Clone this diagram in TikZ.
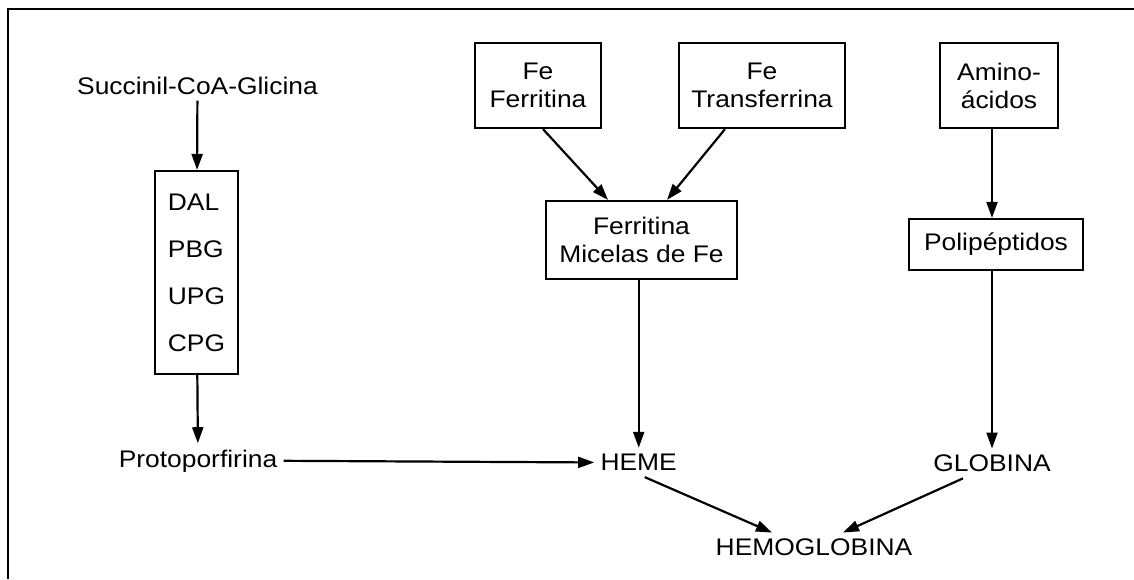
\documentclass[tikz,border=0pt]{standalone}
\usepackage{fontspec}
\setmainfont{Liberation Sans}[FakeStretch=1.1]
\usetikzlibrary{arrows.meta}

\begin{document}
\begin{tikzpicture}[x=0.5pt,y=-0.5pt,
  font=\fontsize{12}{14}\selectfont,
  caja/.style={draw,line width=1.1pt,align=center,inner sep=0pt},
  txt/.style={anchor=base,inner sep=3pt},
  flecha/.style={line width=1.1pt,-{Triangle[length=8pt,width=5.5pt]}}]
\useasboundingbox (0,0) rectangle (1134,579);
\draw[line width=1.4pt] (8,579) -- (8,9) -- (1134,9);

\node[txt] (succ) at (197.5,94) {Succinil-CoA-Glicina};
\node[caja,align=left,minimum width=41.5pt,minimum height=101.5pt] (dal) at (196.5,272.5)
  {DAL\\[9.5pt]PBG\\[9.5pt]UPG\\[9.5pt]CPG};
\node[txt] (proto) at (198,467) {Protoporfirina};

\node[caja,minimum width=63pt,minimum height=42.5pt] (fefer) at (538,85.5) {Fe\\Ferritina};
\node[caja,minimum width=83pt,minimum height=42.5pt] (fetrans) at (762,85.5) {Fe\\Transferrina};
\node[caja,minimum width=95.5pt,minimum height=39pt] (fmic) at (641.5,240) {Ferritina\\Micelas de Fe};
\node[txt] (heme) at (638.7,470.7) {HEME};

\node[caja,minimum width=59pt,minimum height=42.5pt] (amino) at (999,85.5) {Amino-\\ácidos};
\node[caja,minimum width=87pt,minimum height=25.5pt] (polip) at (996,244.5) {Polipéptidos};
\node[txt] (glob) at (992,471.7) {GLOBINA};

\node[txt] (hemo) at (814,555.7) {HEMOGLOBINA};

\draw[flecha] (succ) -- (dal);
\draw[flecha] (dal) -- (proto);
\draw[flecha] (proto.east) -- (heme.west);
\draw[flecha] ([xshift=2.5pt]fefer.south) -- ([xshift=-16.75pt]fmic.north);
\draw[flecha] ([xshift=-18.5pt]fetrans.south) -- ([xshift=12.75pt]fmic.north);
\draw[flecha] (fmic.south -| heme) -- (heme);
\draw[flecha] (amino.south -| glob) -- (polip.north -| glob);
\draw[flecha] (polip.south -| glob) -- (glob);
\draw[flecha] ([xshift=3pt]heme.south) -- ([xshift=-21pt]hemo.north);
\draw[flecha] ([xshift=-14.5pt]glob.south) -- ([xshift=14.5pt]hemo.north);
\end{tikzpicture}
\end{document}
